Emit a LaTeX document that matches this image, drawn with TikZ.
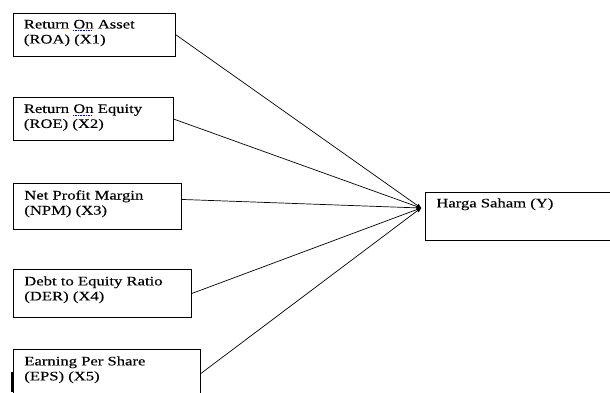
\documentclass[tikz,border=0pt]{standalone}
\usepackage{fontspec}
\setmainfont[FakeStretch=1.28,FakeBold=0.2]{Liberation Serif}
\usepackage{xcolor}
\usetikzlibrary{arrows,positioning}

\newcommand\spellmark[1]{\setbox0\hbox{#1}\rlap{\raisebox{-2.5pt}{\textcolor{blue}{\hbox to\wd0{\leaders\hbox{\rule{1pt}{0.6pt}\hspace{0.6pt}}\hfil}}}}#1}

\tikzset{
  varbox/.style={draw, rectangle, anchor=north west, inner sep=0pt, line width=0.9pt},
  vartext/.style={anchor=north west, inner sep=0pt, align=left, font=\fontsize{13}{15}\selectfont}
}

\begin{document}
\begin{tikzpicture}[->,>=stealth',shorten >=0pt,x=1pt,y=-1pt,line width=0.7pt]
        \useasboundingbox (0,0) rectangle (610,392);
        \clip (0,0) rectangle (610,392);
        % variabel bebas
        \node[varbox, minimum width=162pt, minimum height=43pt] (x1) at (12.5,12.5) {};
        \node[varbox, minimum width=160pt, minimum height=43pt] (x2) at (12.5,97) {};
        \node[varbox, minimum width=168pt, minimum height=46pt] (x3) at (13,183) {};
        \node[varbox, minimum width=178pt, minimum height=48pt] (x4) at (13,269) {};
        \node[varbox, minimum width=187pt, minimum height=48pt] (x5) at (13,349) {};
        % variabel terikat
        \node[varbox, minimum width=200pt, minimum height=48pt] (y) at (425,192) {};
        \node[vartext] (x1t) at ([shift={(11pt,-7pt)}]x1.north west) {Return \spellmark{On} Asset\\(ROA) (X1)};
        \node[vartext] (x2t) at ([shift={(11pt,-7pt)}]x2.north west) {Return \spellmark{On} Equity\\(ROE) (X2)};
        \node[vartext] (x3t) at ([shift={(11pt,-7pt)}]x3.north west) {Net Profit Margin\\(NPM) (X3)};
        \node[vartext] (x4t) at ([shift={(11pt,-7pt)}]x4.north west) {Debt to Equity Ratio\\(DER) (X4)};
        \node[vartext] (x5t) at ([shift={(11pt,-7pt)}]x5.north west) {Earning Per Share\\(EPS) (X5)};
        \node[vartext] (yt) at ([shift={(11pt,-6pt)}]y.north west) {Harga Saham (Y)};
        \coordinate (tip) at (421,208);
        \path (x1.east) edge (tip);
        \path (x2.east) edge (tip);
        \path ([yshift=7pt]x3.east) edge (tip);
        \path (x4.east) edge (tip);
        \path (x5.east) edge (tip);
        \draw[-, line width=1.8pt] (12.2,372) -- (12.2,392);
    \end{tikzpicture}
\end{document}
